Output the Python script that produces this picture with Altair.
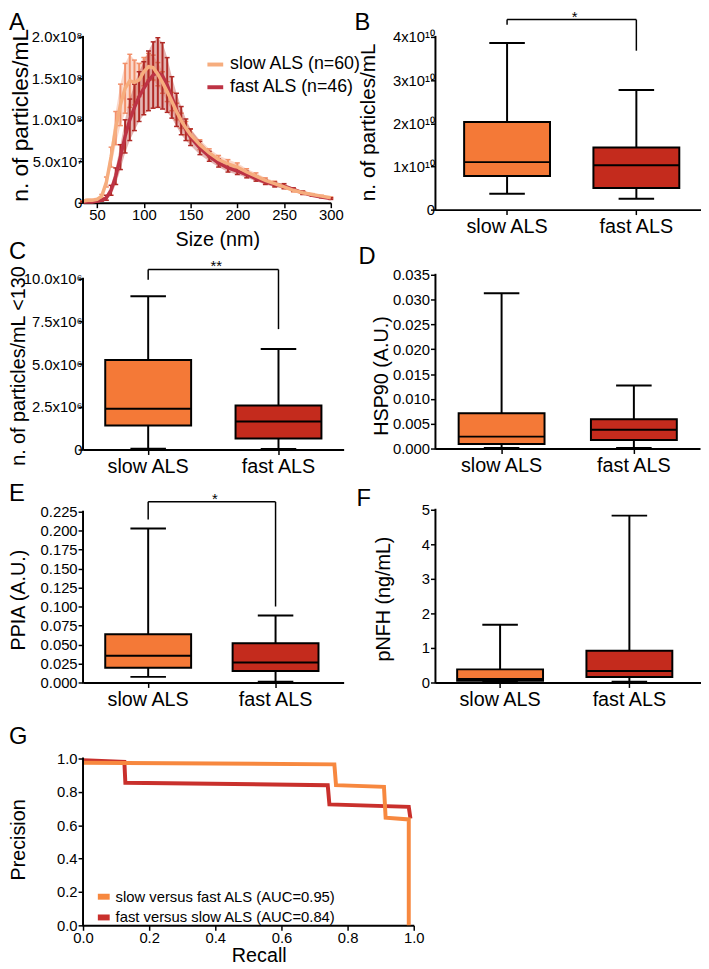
import altair as alt
import pandas as pd

FONT = "Liberation Sans"

# ------------------------------------------------------------------ data
groups = ["slow ALS", "fast ALS"]
box_colors = ["#F47937", "#C42B1D"]

# Panel A : NTA size distribution, mean and SEM (x 1e8 particles/mL)
size_nm = [35, 40, 45, 50, 55, 60, 65, 70, 75, 80, 85, 90, 95, 100, 105, 110, 115, 120,
           125, 130, 135, 140, 145, 150, 160, 170, 180, 190, 200, 210, 220, 230, 240,
           250, 260, 270, 280, 290, 300]
slow_mean = [0.02, 0.03, 0.03, 0.04, 0.08, 0.25, 0.55, 0.90, 1.18, 1.38, 1.47, 1.45, 1.48, 1.58,
             1.64, 1.63, 1.55, 1.45, 1.34, 1.22, 1.10, 0.99, 0.90, 0.82, 0.70, 0.60, 0.52, 0.47,
             0.43, 0.37, 0.32, 0.27, 0.23, 0.19, 0.15, 0.12, 0.10, 0.08, 0.06]
slow_sem = [0.005, 0.01, 0.01, 0.01, 0.02, 0.06, 0.12, 0.20, 0.25, 0.30, 0.32, 0.27, 0.20, 0.17,
            0.16, 0.15, 0.14, 0.13, 0.12, 0.11, 0.10, 0.09, 0.08, 0.07, 0.06, 0.05, 0.05, 0.05,
            0.05, 0.04, 0.04, 0.03, 0.03, 0.02, 0.02, 0.02, 0.01, 0.01, 0.01]
fast_mean = [0.01, 0.01, 0.01, 0.02, 0.03, 0.06, 0.15, 0.32, 0.55, 0.80, 1.00, 1.15, 1.28, 1.38,
             1.47, 1.54, 1.57, 1.53, 1.42, 1.27, 1.12, 0.99, 0.88, 0.79, 0.66, 0.56, 0.48, 0.42,
             0.38, 0.34, 0.29, 0.25, 0.22, 0.20, 0.16, 0.12, 0.09, 0.07, 0.05]
fast_sem = [0.005, 0.005, 0.005, 0.01, 0.01, 0.03, 0.06, 0.10, 0.15, 0.20, 0.25, 0.28, 0.30, 0.32,
            0.36, 0.40, 0.42, 0.40, 0.33, 0.25, 0.20, 0.17, 0.13, 0.10, 0.08, 0.06, 0.05, 0.05,
            0.04, 0.04, 0.03, 0.03, 0.03, 0.03, 0.02, 0.02, 0.01, 0.01, 0.01]
A_unit = 1e8
A_series = ["slow ALS (n=60)", "fast ALS (n=46)"]
A_line_colors = ["#F6AD7E", "#BD3344"]
A_err_colors = ["#F2906A", "#B02A26"]

# box plots: [min, q1, median, q3, max]
B_slow = [0.37e10, 0.78e10, 1.10e10, 2.03e10, 3.86e10]
B_fast = [0.25e10, 0.50e10, 1.03e10, 1.44e10, 2.77e10]
C_slow = [0.05e6, 1.41e6, 2.39e6, 5.24e6, 8.98e6]
C_fast = [0.03e6, 0.65e6, 1.64e6, 2.58e6, 5.88e6]
D_slow = [0.0001, 0.0009, 0.0024, 0.0071, 0.0313]
D_fast = [0.0001, 0.0017, 0.0038, 0.0059, 0.0127]
E_slow = [0.0074, 0.0195, 0.0351, 0.0637, 0.2030]
E_fast = [0.0010, 0.0152, 0.0264, 0.0516, 0.0884]
F_slow = [0.02, 0.05, 0.10, 0.38, 1.67]
F_fast = [0.02, 0.16, 0.33, 0.92, 4.83]

# significance brackets: [bar level, left end, right end]
B_bracket = [4.40e10, 4.28e10, 3.68e10]
C_bracket = [10.54e6, 9.94e6, 7.05e6]
E_bracket = [0.238, 0.2146, 0.1001]

# ticks
A_xticks = [50, 100, 150, 200, 250, 300]
A_yticks = [0, 5e7, 1e8, 1.5e8, 2e8]
A_ylabels = ["0", "5.0x10⁷", "1.0x10⁸", "1.5x10⁸", "2.0x10⁸"]
B_yticks = [0, 1e10, 2e10, 3e10, 4e10]
B_ylabels = ["0", "1x10¹⁰", "2x10¹⁰", "3x10¹⁰", "4x10¹⁰"]
C_yticks = [0, 2.5e6, 5e6, 7.5e6, 1e7]
C_ylabels = ["0", "2.5x10⁶", "5.0x10⁶", "7.5x10⁶", "10.0x10⁶"]
D_yticks = [0.0, 0.005, 0.010, 0.015, 0.020, 0.025, 0.030, 0.035]
E_yticks = [0.0, 0.025, 0.05, 0.075, 0.1, 0.125, 0.15, 0.175, 0.2, 0.225]
F_yticks = [0, 1, 2, 3, 4, 5]
G_ticks = [0.0, 0.2, 0.4, 0.6, 0.8, 1.0]

# Panel G : precision-recall curves
G_series = ["slow versus fast ALS (AUC=0.95)", "fast versus slow ALS (AUC=0.84)"]
G_colors = ["#F7883F", "#C9302C"]
G_slow_recall = [0.0, 0.76, 0.765, 0.91, 0.915, 0.985, 0.985]
G_slow_prec = [0.975, 0.965, 0.84, 0.83, 0.645, 0.635, 0.0]
G_fast_recall = [0.0, 0.125, 0.128, 0.74, 0.745, 0.985, 0.99]
G_fast_prec = [0.99, 0.98, 0.855, 0.84, 0.725, 0.71, 0.64]

# ------------------------------------------------------------------ layout (px)
LAY = {
    "A": dict(T=10, a=34, b=202, w=251, tx=-63, ty=103, tfs=23, lx=-75, ly=-2),
    "B": dict(T=10, a=34, b=209, w=269, tx=-68, ty=110, tfs=21, lx=-82, ly=-2,
              pad=0.027, align=1.0),
    "C": dict(T=249, a=277, b=450, w=264, tx=-65, ty=116, tfs=20, lx=-75, ly=-11,
              pad=0.0, align=0.5),
    "D": dict(T=249, a=273, b=449, w=268, tx=-55, ty=126, tfs=20, lx=-78, ly=-6,
              pad=0.0, align=0.5),
    "E": dict(T=490, a=511, b=684, w=264, tx=-65, ty=110, tfs=20, lx=-75, ly=-9,
              pad=0.023, align=0.25),
    "F": dict(T=490, a=509, b=684, w=269, tx=-53, ty=109, tfs=20, lx=-80, ly=-4,
              pad=0.027, align=0.0),
    "G": dict(T=724, a=759, b=928, w=335, tx=-65, ty=117, tfs=20, lx=-75, ly=1),
}


def label_expr(ticks, labels):
    tol = max(abs(t) for t in ticks) * 1e-6
    parts = [f"abs(datum.value - {float(t)!r}) < {tol!r} ? '{lab}'" for t, lab in zip(ticks, labels)]
    return " : ".join(parts) + " : ''"


def y_axis(ticks, title, lay, labels=None, fmt=None, lpad=1):
    kw = dict(values=ticks, domain=False, tickSize=5, labelPadding=lpad, title=title,
              titleX=lay["tx"], titleY=lay["ty"], titleAngle=-90, titleAlign="center",
              titleBaseline="middle", titleFontSize=lay["tfs"])
    if labels is not None:
        kw["labelExpr"] = label_expr(ticks, labels)
    if fmt is not None:
        kw["format"] = fmt
    return alt.Axis(**kw)


def y_scale(lay, vmax):
    h = lay["b"] - lay["T"]
    return alt.Scale(domain=[0, vmax * h / (lay["b"] - lay["a"])], nice=False, zero=False)


def axis_line(ys, yax, vmax):
    return alt.Chart(pd.DataFrame({"y0": [0.0], "y1": [vmax]})).mark_rule(
        color="black", strokeWidth=2, strokeCap="square").encode(
        x=alt.value(0), y=alt.Y("y0:Q", scale=ys, axis=yax), y2="y1:Q")


def letter_layer(letter, lay):
    return alt.Chart(pd.DataFrame({"t": [letter]})).mark_text(
        fontSize=24, align="left", baseline="top", color="black").encode(
        x=alt.value(lay["lx"]), y=alt.value(lay["ly"]), text="t:N")


def box_panel(letter, s, f, yticks, title, labels=None, fmt=None, lpad=1,
              bracket=None, stars=None):
    lay = LAY[letter]
    h = lay["b"] - lay["T"]
    w = lay["w"]
    vmax = yticks[-1]
    ys = y_scale(lay, vmax)
    yax = y_axis(yticks, title, lay, labels, fmt, lpad)
    xs = alt.Scale(domain=groups, paddingInner=0, paddingOuter=lay["pad"], align=lay["align"])
    step = w / (2 + 2 * lay["pad"])
    mid = (w - 2 * step) * lay["align"] + step
    xax = alt.Axis(title=None, labelAngle=0, labelFontSize=20, labelPadding=2, tickSize=5)
    X = alt.X("group:N", scale=xs, sort=groups, axis=xax)
    df = pd.DataFrame({"group": groups,
                       "lo": [s[0], f[0]], "q1": [s[1], f[1]], "med": [s[2], f[2]],
                       "q3": [s[3], f[3]], "hi": [s[4], f[4]]})
    base = alt.Chart(df)
    whisker = base.mark_rule(color="black", strokeWidth=2, opacity=1).encode(
        x=X, y=alt.Y("lo:Q", scale=ys, axis=yax), y2="hi:Q")
    box = base.mark_bar(size=87, stroke="black", strokeWidth=2, opacity=1).encode(
        x=X, y=alt.Y("q1:Q", scale=ys, axis=yax), y2="q3:Q",
        color=alt.Color("group:N", scale=alt.Scale(domain=groups, range=box_colors), legend=None))
    med = base.mark_tick(size=87, thickness=2, color="black", opacity=1).encode(
        x=X, y=alt.Y("med:Q", scale=ys, axis=yax))
    cap_lo = base.mark_tick(size=36, thickness=2, color="black", opacity=1).encode(
        x=X, y=alt.Y("lo:Q", scale=ys, axis=yax))
    cap_hi = base.mark_tick(size=36, thickness=2, color="black", opacity=1).encode(
        x=X, y=alt.Y("hi:Q", scale=ys, axis=yax))
    layers = [whisker, box, med, cap_lo, cap_hi, axis_line(ys, yax, vmax),
              letter_layer(letter, lay)]
    if bracket is not None:
        vb = pd.DataFrame({"group": groups, "y": [bracket[0], bracket[0]],
                           "y2": [bracket[1], bracket[2]], "g2": [groups[1], groups[1]]})
        hb = vb.iloc[:1]
        layers.append(alt.Chart(hb).mark_rule(color="black", strokeWidth=1.5).encode(
            x=X, x2="g2:N", y=alt.Y("y:Q", scale=ys, axis=yax)))
        layers.append(alt.Chart(vb).mark_rule(color="black", strokeWidth=1.5).encode(
            x=X, y=alt.Y("y:Q", scale=ys, axis=yax), y2="y2:Q"))
        layers.append(alt.Chart(pd.DataFrame({"t": [stars], "y": [bracket[0]]})).mark_text(
            fontSize=15, baseline="alphabetic", align="center", dy=2, color="black").encode(
            x=alt.value(mid + 3), y=alt.Y("y:Q", scale=ys, axis=yax), text="t:N"))
    return alt.layer(*layers).properties(width=w, height=h)


# ------------------------------------------------------------------ panel A
layA = LAY["A"]
ysA = y_scale(layA, A_yticks[-1])
yaxA = y_axis(A_yticks, "n. of particles/mL", layA, labels=A_ylabels, lpad=-4)
xsA = alt.Scale(domain=[35, 300], nice=False, zero=False)
xaxA = alt.Axis(values=A_xticks, title="Size (nm)", tickSize=5, labelPadding=0,
                titleX=136, titleY=43, titleBaseline="alphabetic", titleAlign="center",
                titleFontSize=20)
rows = []
for name, mean, sem in [(A_series[1], fast_mean, fast_sem), (A_series[0], slow_mean, slow_sem)]:
    for x, m, e in zip(size_nm, mean, sem):
        rows.append({"size": x, "series": name, "mean": m * A_unit,
                     "lo": (m - e) * A_unit, "hi": (m + e) * A_unit})
dfA = pd.DataFrame(rows)
XA = alt.X("size:Q", scale=xsA, axis=xaxA)
a_layers = []
for name, ecol in [(A_series[0], A_err_colors[0]), (A_series[1], A_err_colors[1])]:
    sub = alt.Chart(dfA).transform_filter(alt.datum.series == name)
    a_layers.append(sub.mark_area(color=ecol, opacity=0.35).encode(
        x=XA, y=alt.Y("lo:Q", scale=ysA, axis=yaxA), y2="hi:Q"))
    a_layers.append(sub.mark_rule(color=ecol, strokeWidth=2).encode(
        x=XA, y=alt.Y("lo:Q", scale=ysA, axis=yaxA), y2="hi:Q"))
    a_layers.append(sub.mark_tick(orient="horizontal", size=5, thickness=1.5, color=ecol,
                                  opacity=1).encode(x=XA, y=alt.Y("hi:Q", scale=ysA, axis=yaxA)))
    a_layers.append(sub.mark_tick(orient="horizontal", size=5, thickness=1.5, color=ecol,
                                  opacity=1).encode(x=XA, y=alt.Y("lo:Q", scale=ysA, axis=yaxA)))
lineA = alt.Chart(dfA).mark_line(strokeWidth=3.5).encode(
    x=XA,
    y=alt.Y("mean:Q", scale=ysA, axis=yaxA),
    color=alt.Color("series:N", scale=alt.Scale(domain=A_series, range=A_line_colors),
                    legend=alt.Legend(title=None, orient="none", legendX=124, legendY=42,
                                      symbolType="stroke", symbolSize=256, symbolStrokeWidth=4,
                                      labelFontSize=18, labelFont=FONT, labelOffset=5,
                                      labelLimit=400, rowPadding=4, padding=0)),
    detail="series:N")
panelA = alt.layer(*a_layers, lineA, axis_line(ysA, yaxA, A_yticks[-1]),
                   letter_layer("A", layA)).properties(width=layA["w"], height=layA["b"] - layA["T"])

# ------------------------------------------------------------------ box panels
panelB = box_panel("B", B_slow, B_fast, B_yticks, "n. of particles/mL", labels=B_ylabels,
                   lpad=-4, bracket=B_bracket, stars="*")
panelC = box_panel("C", C_slow, C_fast, C_yticks, "n. of particles/mL <130", labels=C_ylabels,
                   lpad=-4, bracket=C_bracket, stars="**")
panelD = box_panel("D", D_slow, D_fast, D_yticks, "HSP90 (A.U.)", fmt=".3f")
panelE = box_panel("E", E_slow, E_fast, E_yticks, "PPIA (A.U.)", fmt=".3f",
                   bracket=E_bracket, stars="*")
panelF = box_panel("F", F_slow, F_fast, F_yticks, "pNFH (ng/mL)", fmt="d")

# ------------------------------------------------------------------ panel G
layG = LAY["G"]
ysG = y_scale(layG, 1.0)
yaxG = y_axis(G_ticks, "Precision", layG, fmt=".1f")
dfG = pd.DataFrame({
    "recall": G_fast_recall + G_slow_recall,
    "precision": G_fast_prec + G_slow_prec,
    "series": [G_series[1]] * len(G_fast_recall) + [G_series[0]] * len(G_slow_recall),
    "order": list(range(len(G_fast_recall))) + list(range(len(G_slow_recall))),
})
lineG = alt.Chart(dfG).mark_line(strokeWidth=4).encode(
    x=alt.X("recall:Q", scale=alt.Scale(domain=[0, 1], nice=False, zero=False),
            axis=alt.Axis(values=G_ticks, format=".1f", title="Recall", tickSize=5,
                          labelPadding=0, titleX=178, titleY=37, titleBaseline="alphabetic",
                          titleAlign="center", titleFontSize=20)),
    y=alt.Y("precision:Q", scale=ysG, axis=yaxG),
    color=alt.Color("series:N", scale=alt.Scale(domain=G_series, range=G_colors),
                    legend=alt.Legend(title=None, orient="none", legendX=12, legendY=166,
                                      symbolType="stroke", symbolSize=144, symbolStrokeWidth=6,
                                      labelFontSize=15, labelFont=FONT, labelOffset=3,
                                      labelLimit=400, rowPadding=-3, padding=0)),
    order="order:Q")
panelG = alt.layer(lineG, axis_line(ysG, yaxG, 1.0), letter_layer("G", layG)).properties(
    width=layG["w"], height=layG["b"] - layG["T"])

# ------------------------------------------------------------------ assemble
chart = alt.concat(panelA, panelB, panelC, panelD, panelE, panelF, panelG,
                   columns=2, spacing={"row": 42, "column": 22},
                   bounds="flush", align="each").properties(
    padding={"left": 0, "top": -5, "right": 0, "bottom": 0})
chart = chart.resolve_scale(color="independent").resolve_legend(color="independent")
chart = chart.configure(font=FONT).configure_view(strokeWidth=0).configure_axis(
    labelFont=FONT, titleFont=FONT, labelColor="black", titleColor="black",
    domainColor="black", tickColor="black", domainWidth=2, tickWidth=1.5, grid=False,
    labelFontSize=15, titleFontSize=20, titleFontWeight="normal",
    labelOverlap=False, labelFlush=False)

chart.save("out.html", embed_options={"renderer": "svg", "actions": False})
